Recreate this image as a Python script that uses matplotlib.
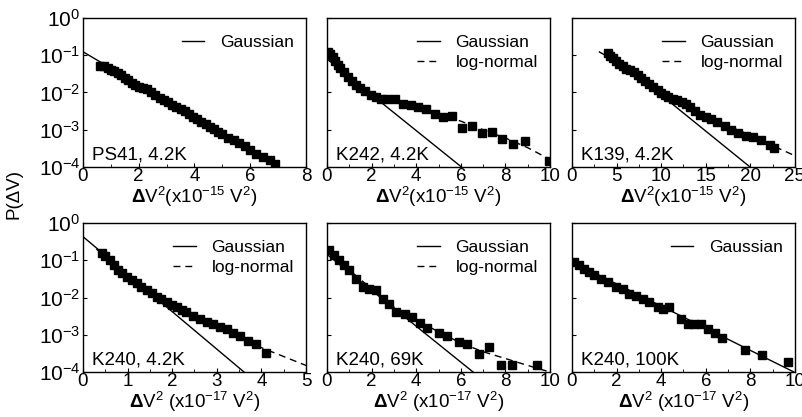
import matplotlib
matplotlib.use("Agg")
import matplotlib.pyplot as plt
from matplotlib.ticker import LogLocator, MultipleLocator, NullLocator

plt.rcParams["font.family"] = ["Liberation Sans", "DejaVu Sans"]
plt.rcParams["mathtext.fontset"] = "custom"
plt.rcParams["mathtext.rm"] = "Liberation Sans"
plt.rcParams["mathtext.it"] = "Liberation Sans:italic"
plt.rcParams["mathtext.bf"] = "Liberation Sans:bold"
plt.rcParams["mathtext.default"] = "regular"

# PS41, 4.2K
ps41_x = [0.62, 0.75, 0.88, 1.0, 1.12, 1.25, 1.38, 1.5, 1.62, 1.75, 1.88, 2.0, 2.15, 2.3,
          2.45, 2.6, 2.75, 2.9, 3.05, 3.2, 3.35, 3.5, 3.65, 3.8, 3.95, 4.1, 4.25, 4.4, 4.55,
          4.7, 4.85, 5.0, 5.2, 5.4, 5.6, 5.8, 6.0, 6.2, 6.45, 6.7, 6.9]
ps41_p = [0.052, 0.050, 0.045, 0.041, 0.037, 0.033, 0.029, 0.025, 0.021, 0.018, 0.016, 0.014,
          0.013, 0.0125, 0.0105, 0.0085, 0.0072, 0.0062, 0.0054, 0.0046, 0.0040, 0.0035,
          0.0031, 0.0026, 0.0022, 0.0019, 0.0016, 0.0014, 0.0012, 0.00102, 0.00088, 0.00075,
          0.00060, 0.00052, 0.00045, 0.00036, 0.00028, 0.00023, 0.000185, 0.00015, 0.00012]
ps41_gauss_x = [0, 7.0]
ps41_gauss_p = [0.124, 1e-4]

# K242, 4.2K
k242_x = [0.06, 0.15, 0.25, 0.35, 0.48, 0.6, 0.75, 0.93, 1.1, 1.28, 1.46, 1.7, 1.98, 2.2,
          2.43, 2.7, 3.03, 3.41, 3.75, 4.08, 4.46, 4.83, 5.2, 5.59, 6.04, 6.49, 6.94, 7.39,
          7.84, 8.36, 8.89, 9.95]
k242_p = [0.124, 0.105, 0.088, 0.072, 0.055, 0.045, 0.035, 0.026, 0.020, 0.016, 0.0135,
          0.011, 0.0085, 0.0075, 0.0069, 0.0066, 0.0069, 0.005, 0.0045, 0.0041, 0.0037,
          0.0027, 0.0022, 0.0023, 0.0011, 0.0013, 0.0008, 0.00085, 0.00058, 0.00041,
          0.0005, 0.000145]
k242_gauss_x = [0, 6.03]
k242_gauss_p = [0.08, 1e-4]
k242_logn_x = [0, 0.5, 1, 1.5, 2, 3, 4, 5, 6, 7, 8, 9, 10]
k242_logn_p = [0.13, 0.055, 0.025, 0.014, 0.0095, 0.0062, 0.0042, 0.0028, 0.0017, 0.001,
               0.0006, 0.00033, 0.00016]

# K139, 4.2K
k139_x = [3.98, 4.3, 4.55, 4.9, 5.3, 5.7, 6.05, 6.5, 6.99, 7.4, 7.74, 8.2, 8.68, 9.1, 9.62,
          10.0, 10.4, 10.8, 11.3, 11.8, 12.3, 12.8, 13.2, 13.8, 14.3, 15.0, 15.6, 16.3, 17.1,
          17.8, 18.6, 19.5, 20.3, 21.2, 22.2, 22.7]
k139_p = [0.112, 0.098, 0.082, 0.07, 0.06, 0.052, 0.044, 0.04, 0.036, 0.029, 0.024, 0.02,
          0.017, 0.014, 0.0115, 0.0098, 0.0085, 0.0076, 0.0069, 0.0062, 0.0056, 0.0048,
          0.0041, 0.0032, 0.0025, 0.0022, 0.002, 0.0016, 0.0013, 0.001, 0.0008, 0.0007,
          0.00064, 0.00052, 0.00038, 0.00033]
k139_gauss_x = [4.0, 19.96]
k139_gauss_p = [0.125, 1e-4]
k139_logn_x = [3, 5, 7, 9, 11, 13, 15, 17, 19, 21, 23, 25]
k139_logn_p = [0.125, 0.068, 0.036, 0.017, 0.0085, 0.0045, 0.0025, 0.0014, 0.0009, 0.00055,
               0.00033, 0.0002]

# K240, 4.2K
k240a_x = [0.42, 0.5, 0.61, 0.7, 0.79, 0.88, 0.98, 1.09, 1.2, 1.31, 1.43, 1.54, 1.65, 1.76,
           1.88, 1.99, 2.1, 2.21, 2.32, 2.47, 2.62, 2.77, 2.92, 3.07, 3.22, 3.37, 3.52, 3.7,
           3.89, 4.1]
k240a_p = [0.16, 0.13, 0.10, 0.075, 0.055, 0.045, 0.036, 0.029, 0.024, 0.019, 0.016, 0.013,
           0.0105, 0.009, 0.0076, 0.0064, 0.0055, 0.0047, 0.0040, 0.0032, 0.0026, 0.0022,
           0.0019, 0.0016, 0.0014, 0.0011, 0.0009, 0.0007, 0.00055, 0.00032]
k240a_gauss_x = [0, 3.61]
k240a_gauss_p = [0.43, 1e-4]
k240a_logn_x = [0.3, 0.6, 1, 1.5, 2, 2.5, 3, 3.5, 4, 4.5, 5]
k240a_logn_p = [0.2, 0.1, 0.035, 0.014, 0.0065, 0.0032, 0.0018, 0.001, 0.00045, 0.00026,
                0.00015]

# K240, 69K
k240b_x = [0.1, 0.33, 0.55, 0.78, 1.0, 1.3, 1.6, 1.9, 2.2, 2.5, 2.8, 3.1, 3.5, 3.8, 4.15,
           4.5, 5.0, 5.4, 5.9, 6.3, 6.8, 7.26, 7.8, 8.3, 9.4]
k240b_p = [0.19, 0.14, 0.1, 0.074, 0.055, 0.032, 0.019, 0.017, 0.016, 0.0094, 0.0069,
           0.0041, 0.0037, 0.003, 0.0021, 0.0015, 0.0011, 0.00091, 0.00064, 0.00058, 0.00031,
           0.00047, 0.000155, 0.000155, 0.000155]
k240b_gauss_x = [0, 6.55]
k240b_gauss_p = [0.144, 1e-4]
k240b_logn_x = [0, 1, 2, 3, 4, 5, 6, 7, 8, 9, 10]
k240b_logn_p = [0.2, 0.055, 0.017, 0.0055, 0.0025, 0.0012, 0.0006, 0.00035, 0.00023,
                0.00015, 0.0001]

# K240, 100K
k240c_x = [0.1, 0.33, 0.55, 0.78, 1.0, 1.3, 1.6, 1.97, 2.27, 2.57, 2.87, 3.17, 3.47, 3.84,
           4.07, 4.36, 4.89, 5.19, 5.49, 5.78, 6.08, 6.41, 6.73, 7.77, 8.52, 9.67]
k240c_p = [0.091, 0.074, 0.06, 0.049, 0.040, 0.031, 0.026, 0.019, 0.0165, 0.0128, 0.011,
           0.0094, 0.0076, 0.0056, 0.005, 0.0054, 0.0027, 0.002, 0.0019, 0.0019, 0.0014,
           0.0011, 0.0008, 0.00038, 0.00028, 0.00019]
k240c_gauss_x = [0, 9.95]
k240c_gauss_p = [0.091, 1e-4]

top_label = r"$\mathbf{\Delta}$V$^2$(x10$^{-15}$ V$^2$)"
bot_label = r"$\mathbf{\Delta}$V$^2$ (x10$^{-17}$ V$^2$)"

panels = [
    (ps41_x, ps41_p, ps41_gauss_x, ps41_gauss_p, None, None, "PS41, 4.2K", 8, 2, 1, top_label),
    (k242_x, k242_p, k242_gauss_x, k242_gauss_p, k242_logn_x, k242_logn_p, "K242, 4.2K",
     10, 2, 1, top_label),
    (k139_x, k139_p, k139_gauss_x, k139_gauss_p, k139_logn_x, k139_logn_p, "K139, 4.2K",
     25, 5, 2.5, top_label),
    (k240a_x, k240a_p, k240a_gauss_x, k240a_gauss_p, k240a_logn_x, k240a_logn_p,
     "K240, 4.2K", 5, 1, 0.5, bot_label),
    (k240b_x, k240b_p, k240b_gauss_x, k240b_gauss_p, k240b_logn_x, k240b_logn_p,
     "K240, 69K", 10, 2, 1, bot_label),
    (k240c_x, k240c_p, k240c_gauss_x, k240c_gauss_p, None, None, "K240, 100K", 10, 2, 1,
     bot_label),
]

W, H = 803, 417
fig = plt.figure(figsize=(W / 100, H / 100), dpi=100)
lefts = [83, 327, 572]
tops = [18, 223]
aw, ah = 223, 149

for i, (x, p, gx, gp, lx, lp, name, xmax, major, minor, xlabel) in enumerate(panels):
    row, col = divmod(i, 3)
    ax = fig.add_axes([lefts[col] / W, (H - tops[row] - ah) / H, aw / W, ah / H])
    ax.set_yscale("log")
    ax.set_xlim(0, xmax)
    ax.set_ylim(1e-4, 1)

    ax.plot(gx, gp, color="black", lw=1, label="Gaussian", zorder=2)
    if lx is not None:
        ax.plot(lx, lp, color="black", lw=1, ls=(0, (5, 3.5)), label="log-normal", zorder=2)
    ax.plot(x, p, ls="none", marker="s", ms=6.3, color="black", zorder=3)

    ax.legend(loc="upper right", bbox_to_anchor=(1.0, 0.97), frameon=False, fontsize=12.5,
              handlelength=1.3, handletextpad=0.9, labelspacing=0.32, borderaxespad=0.3)
    ax.text(0.04, 0.025, name, transform=ax.transAxes, fontsize=13.5, ha="left", va="bottom")

    ax.xaxis.set_major_locator(MultipleLocator(major))
    ax.xaxis.set_minor_locator(MultipleLocator(minor))
    ax.yaxis.set_major_locator(LogLocator(base=10, numticks=10))
    ax.yaxis.set_minor_locator(NullLocator())
    ax.tick_params(which="both", direction="in", top=False, right=False)
    ax.tick_params(axis="x", which="major", length=3, pad=1, labelsize=13.5)
    ax.tick_params(axis="x", which="minor", length=2)
    ax.tick_params(axis="y", which="major", length=3, pad=2, labelsize=15)
    if col != 0:
        ax.tick_params(axis="y", labelleft=False)
    ax.set_xlabel(xlabel, fontsize=13.5, labelpad=0)
    for s in ax.spines.values():
        s.set_linewidth(1)

fig.text(14 / W, 1 - 194 / H, "P(ΔV)", rotation=90, fontsize=13.5, ha="center", va="center")

fig.savefig("out.png", dpi=100)
